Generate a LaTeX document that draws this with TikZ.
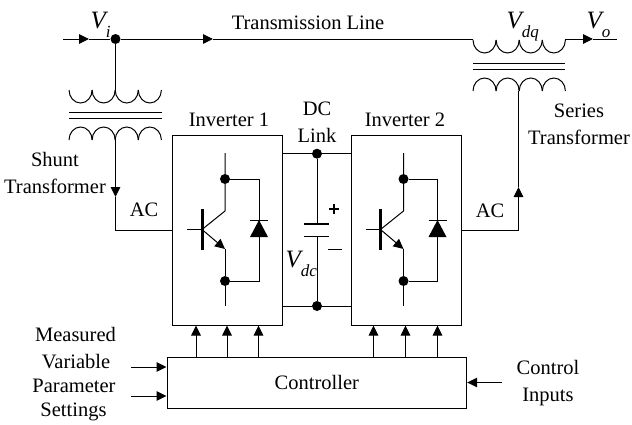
\documentclass[tikz,border=0pt]{standalone}
\usepackage{fontspec}
\setmainfont{Liberation Serif}
\usetikzlibrary{arrows.meta}
\tikzset{
	wire/.style={line width=1pt},
	lbl/.style={font=\fontsize{20.5}{27}\selectfont,inner sep=0pt,align=center},
	sym/.style={font=\fontsize{25}{25}\selectfont\itshape,inner sep=0pt,anchor=base west},
	dotnode/.style={circle,fill=black,inner sep=0pt,minimum size=10pt},
	invbox/.style={draw,line width=1pt,minimum width=109.5pt,minimum height=190pt,inner sep=0pt},
	ctrlbox/.style={draw,line width=1pt,minimum width=299.7pt,minimum height=51pt,font=\fontsize{20.5}{27}\selectfont},
}
\newcommand{\coildown}[2]{\foreach \k in {0,1,2,3} \draw[wire] ({#1+23.1*\k},#2) arc[start angle=180,end angle=0,x radius=11.55,y radius=13];}
\newcommand{\coilup}[2]{\foreach \k in {0,1,2,3} \draw[wire] ({#1+23.1*\k},#2) arc[start angle=180,end angle=360,x radius=11.55,y radius=13];}
\newcommand{\vsub}[1]{V\raisebox{-9pt}{\fontsize{17}{17}\selectfont #1}}
\begin{document}
\begin{tikzpicture}[>={Triangle[length=10pt,width=9.5pt]},x=1pt,y=-1pt]
	\useasboundingbox (0,0) rectangle (632,424);
	% boxes
	\node[invbox] (inv1) at (227.5,230) {};
	\node[invbox] (inv2) at (406.5,230) {};
	\node[ctrlbox] (ctrl) at (316.85,382.5) {Controller};
	% line along the top
	\coordinate (start) at (63,39);
	\coordinate (coilin) at (473,39);
	\coordinate (coilout) at (565,39);
	\coordinate (stop) at (617,39);
	\node[dotnode] (vi) at (115.5,39) {};
	\draw[wire,->] (start)--(89,39);
	\draw[wire] (89,39)--(vi);
	\draw[wire,->] (vi)--(213,39);
	\draw[wire] (213,39)--(coilin);
	\draw[wire,->] (coilout)--(593,39);
	\draw[wire] (593,39)--(stop);
	% shunt transformer
	\coordinate (shunttop) at (115.5,90);
	\coordinate (shuntlow) at (115.5,140);
	\draw[wire] (vi)--(shunttop);
	\coildown{69}{90}
	\draw[wire] (69,112)--(162,112);
	\draw[wire] (69,118)--(162,118);
	\coilup{69}{140}
	\draw[wire,->] (shuntlow)--(115.5,197);
	\draw[wire] (115.5,197)--(115.5,230)--(inv1.west);
	% series transformer
	\coildown{473}{40}
	\draw[wire] (473,63)--(565,63);
	\draw[wire] (473,69)--(565,69);
	\coilup{473}{91}
	\coordinate (serieslow) at (518.5,91);
	\draw[wire,->] (inv2.east)--(518.5,230)--(518.5,187);
	\draw[wire] (518.5,187)--(serieslow);
	% DC link
	\node[dotnode] (dctop) at (317,153.7) {};
	\node[dotnode] (dcbot) at (317,306) {};
	\draw[wire] (inv1.east |- dctop)--(dctop)--(inv2.west |- dctop);
	\draw[wire] (inv1.east |- dcbot)--(dcbot)--(inv2.west |- dcbot);
	\draw[wire] (dctop)--(317,224);
	\draw[wire] (317,236.5)--(dcbot);
	\draw[line width=1.8pt] (304,224)--(329,224);
	\draw[line width=1.8pt] (304,236.5)--(329,236.5);
	\draw[line width=1.5pt] (334,204)--(334,214);
	\draw[line width=1.5pt] (329,209)--(339,209);
	\draw[line width=1.6pt] (328,249.5)--(342,249.5);
	% the two switches
	\foreach \dx in {0,178.5}{
		\begin{scope}[xshift=\dx pt]
			\node[dotnode] (col) at (225,179) {};
			\node[dotnode] (emi) at (225,281) {};
			\coordinate (base) at (202,229.5);
			\draw[wire] (225,153)--(col)--(225,211)--(base);
			\draw[wire,->] (base)--(225,249);
			\draw[wire] (225,249)--(emi)--(225,306);
			\draw[wire] (187,229.5)--(base);
			\draw[line width=3pt] (202,209)--(202,250);
			\draw[wire] (col)--(259,179)--(259,281)--(emi);
			\fill (259,220)--(268,237)--(250,237)--cycle;
			\draw[wire] (250,220)--(268,220);
		\end{scope}
	}
	% controller arrows
	\foreach \ax in {196,227,258.5}
		\draw[wire,->] (\ax,0 |- ctrl.north)--(\ax,0 |- inv1.south);
	\foreach \ax in {373.5,405.5,437.5}
		\draw[wire,->] (\ax,0 |- ctrl.north)--(\ax,0 |- inv2.south);
	\coordinate (inmeas) at (131,367);
	\coordinate (inpar) at (131,396);
	\coordinate (incon) at (502,382.5);
	\draw[wire,->] (inmeas)--(inmeas -| ctrl.west);
	\draw[wire,->] (inpar)--(inpar -| ctrl.west);
	\draw[wire,->] (incon)--(ctrl.east);
	% labels
	\node[lbl] (tline) at (308,23) {Transmission Line};
	\node[lbl] (inv1lbl) at (229,120) {Inverter 1};
	\node[lbl] (inv2lbl) at (405,120) {Inverter 2};
	\node[lbl] (dclbl) at (317,122) {DC\\Link};
	\node[lbl] (serieslbl) at (579,124) {Series\\Transformer};
	\node[lbl] (shuntlbl) at (55,173) {Shunt\\Transformer};
	\node[lbl] (acl) at (144,210) {AC};
	\node[lbl] (acr) at (490,211) {AC};
	\node[lbl] (meas) at (75.5,334) {Measured};
	\node[lbl] (var) at (76,362) {Variable};
	\node[lbl] (par) at (74,386) {Parameter};
	\node[lbl] (set) at (73.5,412) {Settings};
	\node[lbl] (conin) at (548,383) {Control\\Inputs};
	\node[sym] (vilbl) at (90.5,28) {\vsub{i}};
	\node[sym] (vdqlbl) at (506.5,28) {\vsub{dq}};
	\node[sym] (volbl) at (586.5,28) {\vsub{o}};
	\node[sym] (vdclbl) at (285.5,267) {\vsub{dc}};
\end{tikzpicture}
\end{document}
